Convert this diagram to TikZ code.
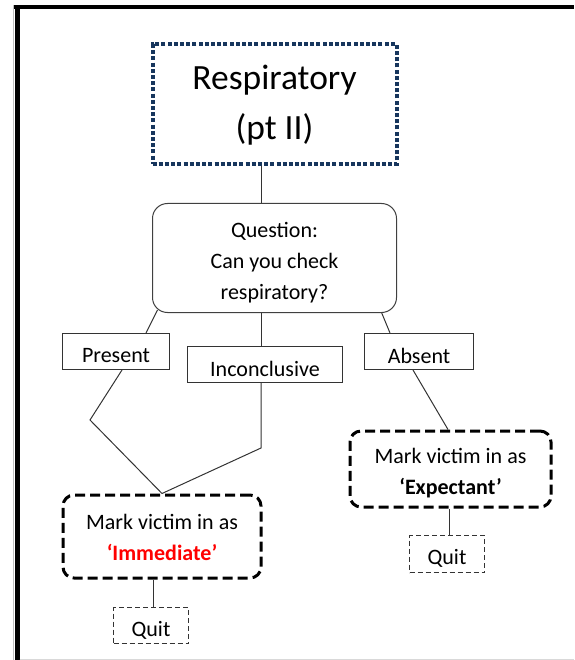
\documentclass[tikz,border=0pt]{standalone}
\usepackage{fontspec}
\setmainfont{Carlito}
\pgfdeclarelayer{bg}
\pgfsetlayers{bg,main}
\definecolor{navy}{RGB}{23,54,93}
\definecolor{immred}{RGB}{255,0,0}
\tikzset{
  titlebox/.style={draw=navy, line width=4pt, dash pattern=on 4pt off 2.2pt, fill=white,
    minimum width=244pt, minimum height=120pt, inner sep=0pt},
  questionbox/.style={draw=black!75, line width=1pt, rounded corners=15pt, fill=white,
    minimum width=244pt, minimum height=109pt, inner sep=0pt},
  answerbox/.style={draw=black!80, line width=1pt, fill=white, minimum height=36pt,
    inner sep=0pt},
  markbox/.style={draw=black, line width=3pt, dash pattern=on 10pt off 5pt, rounded corners=11pt,
    fill=white, inner sep=0pt},
  quitbox/.style={draw=black!80, line width=1pt, dash pattern=on 5pt off 3pt, fill=white,
    minimum width=75pt, minimum height=36pt, inner sep=0pt},
  bigtext/.style={inner sep=0pt, align=center, font=\fontsize{35.5}{50}\selectfont},
  boxtext/.style={inner sep=0pt, align=center, font=\fontsize{22}{31}\selectfont},
  link/.style={draw=black!80, line width=1pt}
}
\begin{document}
\begin{tikzpicture}[x=1pt,y=-1pt]
  % page area and frame
  \useasboundingbox (0,0) rectangle (574,660);
  \fill[black] (13,5) rectangle (574,9.5);
  \fill[black] (14.5,5) rectangle (19.5,660);
  \draw[black!25, line width=0.8pt] (13.6,5) -- (13.6,660);
  \draw[black!15, line width=1pt] (19.5,659) -- (574,659);

  % boxes
  \node[titlebox] (title) at (274.5,104.5) {};
  \node[questionbox] (q) at (274.5,258) {};
  \node[answerbox, minimum width=107pt] (present) at (116,351.5) {};
  \node[answerbox, minimum width=155pt] (inc) at (265,364.5) {};
  \node[answerbox, minimum width=109pt] (absent) at (419,351.5) {};
  \node[markbox, minimum width=198pt, minimum height=83pt] (imm) at (162,536.5) {};
  \node[markbox, minimum width=201pt, minimum height=76pt] (exp) at (450.5,469) {};
  \node[quitbox] (quit1) at (151,625.5) {};
  \node[quitbox, minimum height=37pt] (quit2) at (447,554) {};

  % texts
  \node[bigtext] (titletext) at ([yshift=-1pt]title.center) {Respiratory\\(pt II)};
  \node[boxtext] (qtext) at ([yshift=-5pt]q.center) {Question:\\Can you check\\respiratory?};
  \node[boxtext] (presenttext) at ([yshift=-4.5pt]present.center) {Present};
  \node[boxtext] (inctext) at ([yshift=-4.5pt]inc.center) {Inconclusive};
  \node[boxtext] (absenttext) at ([yshift=-4.5pt]absent.center) {Absent};
  \node[boxtext] (immtext) at ([yshift=-1pt]imm.center)
    {Mark victim in as\\\textcolor{immred}{\textbf{‘Immediate’}}};
  \node[boxtext] (exptext) at ([yshift=-4pt]exp.center)
    {Mark victim in as\\\textbf{‘Expectant’}};
  \node[boxtext] (quit1text) at ([yshift=-4.5pt]quit1.center) {Quit};
  \node[boxtext] (quit2text) at ([yshift=-4.5pt]quit2.center) {Quit};

  % connectors, kept behind the boxes
  \begin{pgfonlayer}{bg}
    \draw[link] ([xshift=-13.5pt]title.south) -- ([xshift=-13.5pt]q.north);
    \draw[link] ([xshift=-117pt,yshift=3pt]q.south) -- ([xshift=30pt]present.north);
    \draw[link] ([xshift=-13.5pt]q.south) -- ([xshift=-4pt]inc.north);
    \draw[link] ([xshift=106pt,yshift=3pt]q.south) -- ([xshift=-29pt]absent.north);
    \coordinate (pbend) at (90,420);
    \coordinate (ibend) at (261,448);
    \draw[link] ([xshift=6pt]present.south) -- (pbend) -- (imm.north);
    \draw[link] ([xshift=-4pt]inc.south) -- (ibend) -- (imm.north);
    \draw[link] ([xshift=-6pt]absent.south) -- ([xshift=-2.5pt]exp.north);
    \draw[link] ([xshift=-9pt]imm.south) -- ([xshift=2pt]quit1.north);
    \draw[link] ([xshift=-1.5pt]exp.south) -- ([xshift=2pt]quit2.north);
  \end{pgfonlayer}
\end{tikzpicture}
\end{document}
